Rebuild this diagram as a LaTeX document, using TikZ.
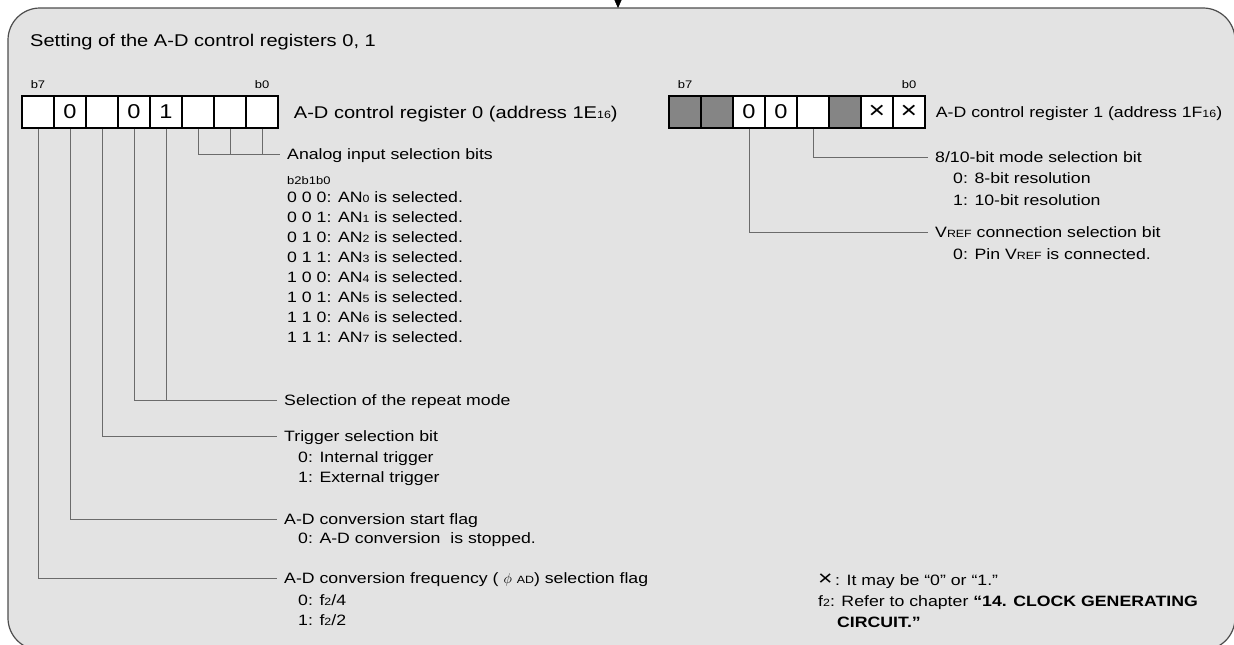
\documentclass[tikz,border=0pt]{standalone}
\usepackage{fontspec}
\setmainfont[FakeStretch=1.18]{Liberation Sans}
\usetikzlibrary{arrows.meta,positioning}
\definecolor{panel}{HTML}{E3E3E3}
\definecolor{rim}{HTML}{4D4D4D}
\definecolor{leadgrey}{HTML}{6B6B6B}
\definecolor{resv}{HTML}{858585}
\newcommand{\sml}[1]{{\fontsize{10.5}{10.5}\selectfont #1}}
\newcommand{\crs}{{\fontsize{24}{24}\selectfont ×}}

\begin{document}
\begin{tikzpicture}[x=1pt,y=-1pt,
  cell/.style={draw,line width=1.4pt,minimum width=32pt,minimum height=32pt,inner sep=0pt,fill=white,font=\fontsize{20}{20}\selectfont},
  bitno/.style={inner sep=0pt,text height=7.9pt,text depth=0pt,font=\fontsize{11}{11}\selectfont},
  lbl/.style={anchor=west,inner ysep=0pt,inner xsep=7pt,text height=10.7pt,text depth=0pt,font=\fontsize{15}{15}\selectfont},
  txt/.style={anchor=west,inner sep=0pt,text height=10.7pt,text depth=0pt,font=\fontsize{15}{15}\selectfont},
  big/.style={font=\fontsize{17}{17}\selectfont,text height=12.2pt},
  wire/.style={draw=leadgrey,line width=0.8pt}]
  \useasboundingbox (0,0) rectangle (1234,645);
  \fill[white] (0,0) rectangle (1234,645);
  \clip (0,0) rectangle (1234,645);
  \draw[rim,line width=1.2pt,fill=panel,rounded corners=32pt] (8,8) rectangle (1235,650);
  \coordinate (feedtop) at (618,-2);
  \coordinate (feedend) at (618,8);
  \draw[-{Triangle[length=8pt,width=7pt]}] (feedtop) -- (feedend);
  \node[txt,big] (title) at (30,40) {Setting of the A-D control registers 0, 1};
  % register 0
  \foreach \v [count=\i from 0, evaluate=\i as \b using int(7-\i)] in {{},0,{},0,1,{},{},{}}
    \node[cell] (ra\b) at (38+32*\i,112) {\v};
  \node[bitno,above=7pt of ra7] (ra7n) {b7};
  \node[bitno,above=7pt of ra0] (ra0n) {b0};
  \node[txt,big,right=15pt of ra0] (ratitle) {A-D control register 0 (address 1E\sml{16})};
  % register 1
  \foreach \v/\f [count=\i from 0, evaluate=\i as \b using int(7-\i)] in {{}/resv,{}/resv,0/white,0/white,{}/white,{}/resv,\crs/white,\crs/white}
    \node[cell,fill=\f] (rb\b) at (685+32*\i,112) {\v};
  \node[bitno,above=7pt of rb7] (rb7n) {b7};
  \node[bitno,above=7pt of rb0] (rb0n) {b0};
  \node[txt,right=10pt of rb0] (rbtitle) {A-D control register 1 (address 1F\sml{16})};
  % labels of register 0
  \node[lbl] (lana) at (280,154) {Analog input selection bits};
  \node[txt,font=\fontsize{11}{11}\selectfont,text height=7.9pt] (lanb) at (287,181) {b2b1b0};
  \foreach \c [count=\k from 0] in {0 0 0,0 0 1,0 1 0,0 1 1,1 0 0,1 0 1,1 1 0,1 1 1}
    \node[txt] (lan\k) at (287,197+20*\k) {\c: AN\sml{\k} is selected.};
  \node[lbl] (lrep) at (277,400) {Selection of the repeat mode};
  \node[lbl] (ltrg) at (277,436) {Trigger selection bit};
  \node[txt] (ltrg0) at (298,457) {0: Internal trigger};
  \node[txt] (ltrg1) at (298,477) {1: External trigger};
  \node[lbl] (lst) at (277,519) {A-D conversion start flag};
  \node[txt] (lst0) at (298,538) {0: A-D conversion\ \ is stopped.};
  \node[lbl] (lfrq) at (277,578) {A-D conversion frequency ( $\phi$ \sml{AD}) selection flag};
  \node[txt] (lfrq0) at (298,600) {0: f\sml{2}/4};
  \node[txt] (lfrq1) at (298,620) {1: f\sml{2}/2};
  \draw[wire] (ra2.south) |- (lana.west);
  \draw[wire] (ra1.south) -- (ra1.south |- lana.west);
  \draw[wire] (ra0.south) -- (ra0.south |- lana.west);
  \draw[wire] (ra4.south) |- (lrep.west);
  \draw[wire] (ra3.south) -- (ra3.south |- lrep.west);
  \draw[wire] (ra5.south) |- (ltrg.west);
  \draw[wire] (ra6.south) |- (lst.west);
  \draw[wire] (ra7.south) |- (lfrq.west);
  % labels of register 1
  \node[lbl] (rmod) at (928,157) {8/10-bit mode selection bit};
  \node[txt] (rmod0) at (953,178) {0: 8-bit resolution};
  \node[txt] (rmod1) at (953,200) {1: 10-bit resolution};
  \node[lbl] (rref) at (928,232) {V\sml{REF} connection selection bit};
  \node[txt] (rref0) at (953,254) {0: Pin V\sml{REF} is connected.};
  \draw[wire] (rb3.south) |- (rmod.west);
  \draw[wire] (rb5.south) |- (rref.west);
  % notes
  \node[txt] (nx) at (818,580) {{\fontsize{21}{21}\selectfont ×}\,: It may be “0” or “1.”};
  \node[txt] (nf) at (818,601) {f\sml{2}: Refer to chapter \textbf{“14. CLOCK GENERATING}};
  \node[txt] (nf2) at (837,622) {\textbf{CIRCUIT.”}};
\end{tikzpicture}
\end{document}
